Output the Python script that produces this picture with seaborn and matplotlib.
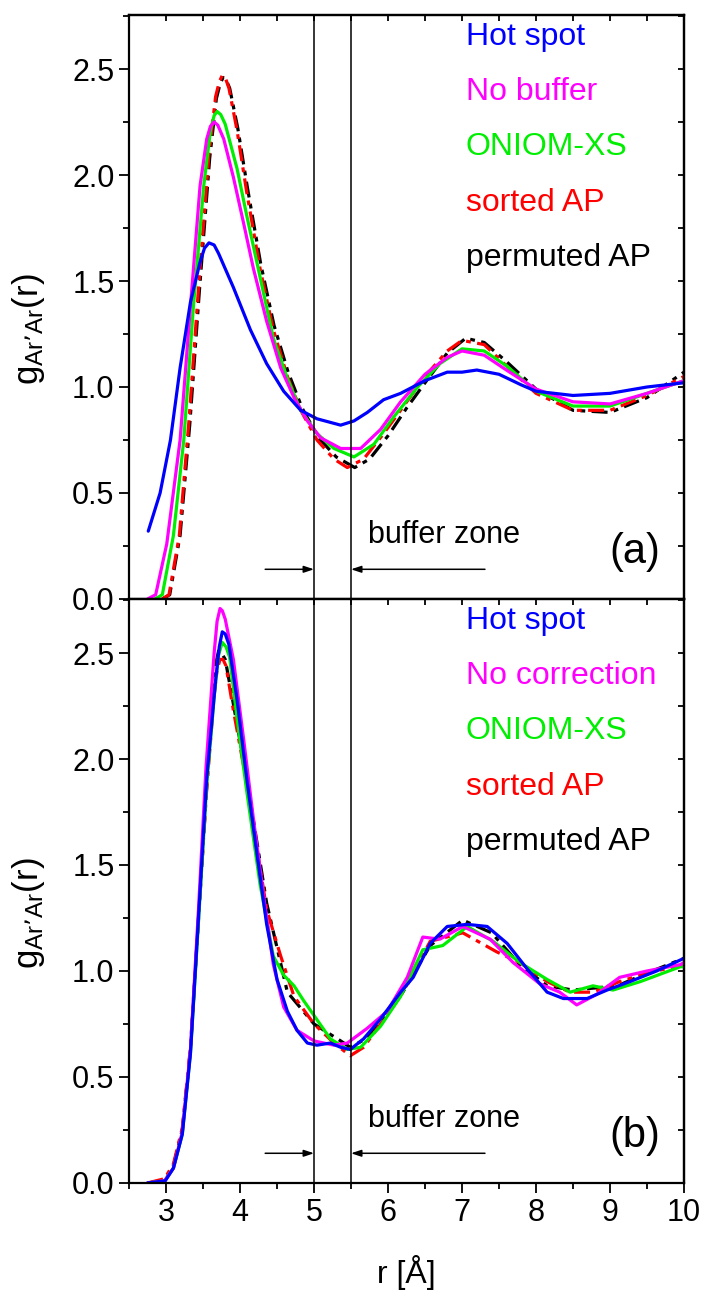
import numpy as np
import pandas as pd
import matplotlib
matplotlib.use('Agg')
import matplotlib.pyplot as plt
import seaborn as sns
from matplotlib.ticker import MultipleLocator, FormatStrFormatter

# panel (a): buffer comparison
hot_a_r = [2.76, 2.92, 3.06, 3.19, 3.33, 3.46, 3.52, 3.58, 3.65, 3.71, 3.91, 4.14, 4.36, 4.59, 4.82, 5.04, 5.36, 5.54, 5.72, 5.94, 6.17, 6.5, 6.8, 7.0, 7.2, 7.5, 7.8, 8.0, 8.5, 9.0, 9.5, 10.0]
hot_a_g = [0.32, 0.50, 0.75, 1.09, 1.40, 1.59, 1.655, 1.68, 1.67, 1.63, 1.47, 1.27, 1.11, 0.98, 0.89, 0.85, 0.82, 0.84, 0.88, 0.94, 0.97, 1.03, 1.07, 1.07, 1.08, 1.06, 1.01, 0.98, 0.96, 0.97, 1.00, 1.02]
nb_a_r = [2.75, 2.86, 3.01, 3.19, 3.33, 3.46, 3.55, 3.60, 3.65, 3.70, 3.78, 3.91, 4.05, 4.18, 4.36, 4.55, 4.73, 4.91, 5.09, 5.36, 5.63, 5.90, 6.17, 6.5, 6.8, 7.0, 7.3, 7.6, 8.0, 8.5, 9.0, 9.5, 10.0]
nb_a_g = [0.0, 0.02, 0.26, 0.75, 1.38, 1.95, 2.17, 2.23, 2.25, 2.235, 2.17, 1.99, 1.77, 1.56, 1.31, 1.09, 0.95, 0.84, 0.76, 0.71, 0.71, 0.80, 0.93, 1.06, 1.14, 1.17, 1.15, 1.08, 0.99, 0.93, 0.92, 0.97, 1.03]
on_a_r = [2.85, 2.95, 3.10, 3.24, 3.37, 3.51, 3.60, 3.65, 3.69, 3.74, 3.80, 3.96, 4.09, 4.27, 4.45, 4.64, 4.82, 5.04, 5.27, 5.54, 5.81, 6.08, 6.4, 6.7, 7.0, 7.3, 7.6, 8.0, 8.5, 9.0, 9.5, 10.0]
on_a_g = [0.0, 0.02, 0.30, 0.75, 1.38, 1.95, 2.21, 2.28, 2.30, 2.285, 2.24, 2.03, 1.81, 1.52, 1.23, 1.04, 0.89, 0.78, 0.71, 0.67, 0.73, 0.86, 1.0, 1.11, 1.18, 1.17, 1.10, 0.98, 0.91, 0.91, 0.97, 1.03]
sa_a_r = [2.95, 3.04, 3.18, 3.31, 3.44, 3.58, 3.67, 3.72, 3.76, 3.80, 3.85, 3.96, 4.09, 4.27, 4.45, 4.64, 4.82, 5.04, 5.27, 5.45, 5.67, 5.94, 6.17, 6.5, 6.8, 7.0, 7.3, 7.6, 8.0, 8.5, 9.0, 9.5, 10.0]
sa_a_g = [0.0, 0.02, 0.30, 0.84, 1.47, 2.10, 2.37, 2.44, 2.47, 2.46, 2.41, 2.21, 1.92, 1.56, 1.27, 1.05, 0.89, 0.75, 0.66, 0.62, 0.66, 0.78, 0.89, 1.05, 1.17, 1.22, 1.20, 1.10, 0.97, 0.89, 0.89, 0.96, 1.05]
pa_a_r = [2.95, 3.05, 3.19, 3.32, 3.45, 3.59, 3.68, 3.73, 3.77, 3.81, 3.86, 3.97, 4.10, 4.28, 4.46, 4.65, 4.84, 5.06, 5.30, 5.55, 5.75, 6.0, 6.25, 6.5, 6.8, 7.05, 7.3, 7.6, 8.0, 8.5, 9.0, 9.5, 10.0]
pa_a_g = [0.0, 0.02, 0.30, 0.82, 1.45, 2.08, 2.36, 2.43, 2.46, 2.45, 2.41, 2.22, 1.94, 1.58, 1.29, 1.07, 0.90, 0.76, 0.67, 0.62, 0.66, 0.77, 0.90, 1.02, 1.16, 1.23, 1.21, 1.12, 0.99, 0.89, 0.88, 0.95, 1.07]

# panel (b): correction comparison
hot_b_r = [2.75, 2.99, 3.10, 3.22, 3.33, 3.44, 3.55, 3.67, 3.72, 3.76, 3.80, 3.85, 3.96, 4.09, 4.23, 4.36, 4.50, 4.64, 4.77, 4.91, 5.04, 5.22, 5.36, 5.49, 5.67, 5.89, 6.17, 6.34, 6.57, 6.80, 7.07, 7.34, 7.61, 7.88, 8.15, 8.37, 8.69, 8.96, 9.27, 9.63, 10.0]
hot_b_g = [0.0, 0.01, 0.07, 0.23, 0.61, 1.26, 1.91, 2.37, 2.53, 2.60, 2.59, 2.54, 2.28, 1.91, 1.55, 1.22, 0.96, 0.81, 0.72, 0.66, 0.65, 0.66, 0.64, 0.63, 0.68, 0.77, 0.90, 0.97, 1.13, 1.21, 1.22, 1.21, 1.13, 1.01, 0.90, 0.87, 0.87, 0.91, 0.95, 1.00, 1.06]
nc_b_r = [2.75, 2.98, 3.10, 3.22, 3.33, 3.44, 3.54, 3.65, 3.69, 3.73, 3.76, 3.80, 3.91, 4.05, 4.18, 4.32, 4.45, 4.59, 4.77, 5.00, 5.27, 5.45, 5.72, 5.99, 6.26, 6.47, 6.70, 7.01, 7.38, 7.69, 8.05, 8.32, 8.55, 8.82, 9.13, 9.50, 9.95, 10.0]
nc_b_g = [0.0, 0.01, 0.07, 0.24, 0.63, 1.30, 1.96, 2.50, 2.65, 2.71, 2.70, 2.66, 2.47, 2.09, 1.72, 1.35, 1.03, 0.83, 0.72, 0.67, 0.65, 0.66, 0.73, 0.81, 0.97, 1.16, 1.15, 1.21, 1.15, 1.04, 0.94, 0.90, 0.84, 0.89, 0.97, 1.00, 1.03, 1.04]
on_b_r = [2.75, 2.98, 3.10, 3.22, 3.33, 3.44, 3.55, 3.66, 3.71, 3.76, 3.81, 3.86, 3.96, 4.09, 4.27, 4.45, 4.59, 4.73, 4.86, 5.04, 5.22, 5.45, 5.63, 5.90, 6.17, 6.47, 6.74, 7.07, 7.42, 7.78, 8.15, 8.46, 8.77, 9.04, 9.41, 9.95, 10.0]
on_b_g = [0.0, 0.01, 0.07, 0.23, 0.61, 1.24, 1.88, 2.33, 2.49, 2.55, 2.53, 2.48, 2.19, 1.85, 1.41, 1.07, 0.98, 0.93, 0.86, 0.77, 0.68, 0.63, 0.64, 0.74, 0.88, 1.10, 1.12, 1.21, 1.14, 1.04, 0.96, 0.90, 0.93, 0.91, 0.95, 1.02, 1.02]
sa_b_r = [2.75, 2.98, 3.10, 3.22, 3.33, 3.44, 3.55, 3.65, 3.69, 3.73, 3.77, 3.81, 3.91, 4.09, 4.36, 4.55, 4.73, 5.00, 5.27, 5.49, 5.67, 5.94, 6.2, 6.57, 7.01, 7.47, 7.78, 8.15, 8.46, 8.77, 9.13, 9.50, 10.0]
sa_b_g = [0.0, 0.02, 0.09, 0.26, 0.64, 1.26, 1.86, 2.30, 2.42, 2.47, 2.47, 2.44, 2.23, 1.89, 1.29, 1.07, 0.88, 0.75, 0.66, 0.60, 0.64, 0.77, 0.90, 1.14, 1.18, 1.09, 1.04, 0.95, 0.90, 0.90, 0.95, 0.99, 1.03]
pa_b_r = [2.75, 2.98, 3.10, 3.22, 3.33, 3.44, 3.55, 3.64, 3.68, 3.71, 3.75, 3.80, 3.91, 4.09, 4.36, 4.64, 5.00, 5.36, 5.49, 5.70, 5.94, 6.2, 6.57, 7.01, 7.40, 7.78, 8.15, 8.50, 8.80, 9.10, 9.50, 10.0]
pa_b_g = [0.0, 0.01, 0.08, 0.25, 0.63, 1.25, 1.87, 2.33, 2.46, 2.51, 2.50, 2.47, 2.26, 1.91, 1.32, 0.90, 0.75, 0.67, 0.64, 0.68, 0.77, 0.90, 1.12, 1.24, 1.18, 1.03, 0.93, 0.91, 0.92, 0.93, 0.99, 1.06]

labels_a = ['Hot spot', 'No buffer', 'ONIOM-XS', 'sorted AP', 'permuted AP']
labels_b = ['Hot spot', 'No correction', 'ONIOM-XS', 'sorted AP', 'permuted AP']
colors = ['#0000ff', '#ff00ff', '#00ee00', '#ff0000', '#000000']
buffer_lo, buffer_hi = 5.0, 5.5

sns.set_style('ticks')
plt.rcParams['font.family'] = ['Liberation Sans', 'DejaVu Sans']
plt.rcParams['mathtext.default'] = 'regular'
for k in ['text.color', 'axes.labelcolor', 'xtick.color', 'ytick.color', 'axes.edgecolor']:
    plt.rcParams[k] = 'black'

fig = plt.figure(figsize=(7.07, 12.92), dpi=100)
ax_a = fig.add_axes([0.1825, 0.5364, 0.785, 0.452])
ax_b = fig.add_axes([0.1825, 0.0844, 0.785, 0.452])

dash_dot = (0, (5, 2, 1.5, 2))
panels = [
    (ax_a, [(pa_a_r, pa_a_g), (sa_a_r, sa_a_g), (on_a_r, on_a_g), (nb_a_r, nb_a_g), (hot_a_r, hot_a_g)], labels_a, '(a)'),
    (ax_b, [(pa_b_r, pa_b_g), (sa_b_r, sa_b_g), (on_b_r, on_b_g), (nc_b_r, nc_b_g), (hot_b_r, hot_b_g)], labels_b, '(b)'),
]
# draw order: black, red, green, magenta, blue on top
order_cols = ['#000000', '#ff0000', '#00ee00', '#ff00ff', '#0000ff']
order_ls = [dash_dot, dash_dot, '-', '-', '-']

for ax, series, labels, tag in panels:
    for (r, g), c, ls in zip(series, order_cols, order_ls):
        df = pd.DataFrame({'r': r, 'g': g})
        sns.lineplot(data=df, x='r', y='g', ax=ax, color=c, linewidth=2.3,
                     linestyle=ls, estimator=None, sort=True)
    ax.axvline(buffer_lo, color='black', lw=1.1)
    ax.axvline(buffer_hi, color='black', lw=1.1)
    ax.set_xlim(2.5, 10)
    ax.set_ylim(0, 2.755)
    ax.xaxis.set_major_locator(MultipleLocator(1))
    ax.xaxis.set_minor_locator(MultipleLocator(0.5))
    ax.yaxis.set_major_locator(MultipleLocator(0.5))
    ax.yaxis.set_minor_locator(MultipleLocator(0.25))
    ax.yaxis.set_major_formatter(FormatStrFormatter('%.1f'))
    ax.tick_params(which='both', top=False, right=False, direction='out', width=1.3, labelsize=22)
    ax.tick_params(which='major', length=7)
    ax.tick_params(which='minor', length=4)
    # small inward ticks on top and right spines
    top = ax.secondary_xaxis('top')
    top.xaxis.set_major_locator(MultipleLocator(0.5))
    top.tick_params(direction='in', length=4, width=1.3, labeltop=False)
    right = ax.secondary_yaxis('right')
    right.yaxis.set_major_locator(MultipleLocator(0.25))
    right.tick_params(direction='in', length=4, width=1.3, labelright=False)
    for sp in list(ax.spines.values()) + list(top.spines.values()) + list(right.spines.values()):
        sp.set_linewidth(1.6)
    ax.set_ylabel("g$_{Ar\u2019Ar}$(r)", fontsize=25)
    ax.yaxis.set_label_coords(-0.148, 0.462)
    # legend as coloured text
    for i, (lab, c) in enumerate(zip(labels, colors)):
        ax.text(7.05, 2.65 - 0.26 * i, lab, color=c, fontsize=23, va='center', ha='left')
    ax.text(9.34, 0.22, tag, fontsize=30, ha='center', va='center')
    ax.text(5.73, 0.30, 'buffer zone', fontsize=22, ha='left', va='center')
    arrow = dict(arrowstyle='-|>,head_length=0.6,head_width=0.2', color='black', lw=1.1, shrinkA=0, shrinkB=0)
    ax.annotate('', xy=(buffer_lo, 0.14), xytext=(4.34, 0.14), arrowprops=arrow)
    ax.annotate('', xy=(buffer_hi, 0.14), xytext=(7.31, 0.14), arrowprops=arrow)

ax_a.tick_params(labelbottom=False)
ax_a.set_xlabel('')
ax_b.set_xlabel('r [Å]', fontsize=23, labelpad=20)

fig.savefig('out.png', dpi=100)
